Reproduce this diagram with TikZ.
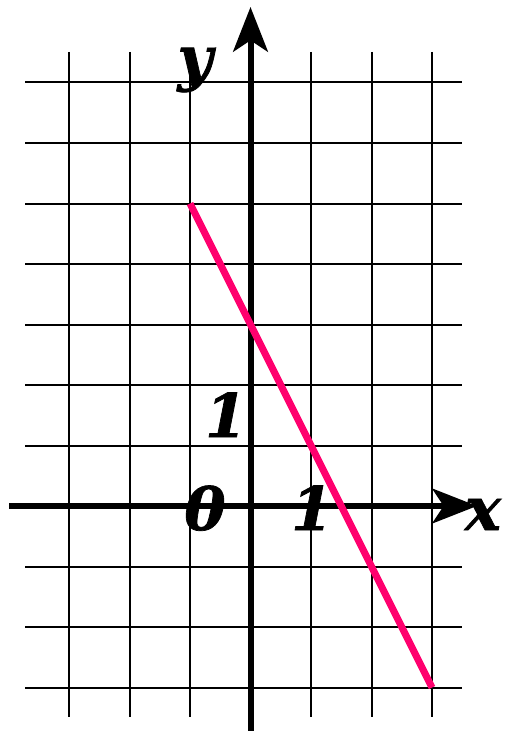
\documentclass[tikz,border=0pt]{standalone}
\usepackage{fontspec}
\usetikzlibrary{arrows.meta}
\newfontfamily\labelfont[BoldItalicFeatures={FakeBold=1.2}]{DejaVu Serif}
\definecolor{linepink}{RGB}{255,0,110}

\tikzset{every picture/.style={line width=0.75pt}}
\tikzset{
  gridline/.style={line width=1.5pt, line cap=butt},
  axisline/.style={line width=4.5pt, -{Stealth[length=33.5pt,width=26pt,inset=8.5pt]}},
  labeltext/.style={anchor=base, inner sep=0.75pt, font=\labelfont\bfseries\itshape\fontsize{45}{45}\selectfont}
}

\begin{document}
\begin{tikzpicture}[x=0.75pt,y=0.75pt,yscale=-1,xscale=1]
\useasboundingbox (0,0) rectangle (508,731);

%Grid: vertical lines
\draw [gridline]  (69,52) -- (69,717) ;
\draw [gridline]  (129.5,52) -- (129.5,717) ;
\draw [gridline]  (190,52) -- (190,717) ;
\draw [gridline]  (311,52) -- (311,717) ;
\draw [gridline]  (371.5,52) -- (371.5,717) ;
\draw [gridline]  (432,52) -- (432,717) ;
%Grid: horizontal lines
\draw [gridline]  (25,82.5) -- (462,82.5) ;
\draw [gridline]  (25,143) -- (462,143) ;
\draw [gridline]  (25,203.5) -- (462,203.5) ;
\draw [gridline]  (25,264) -- (462,264) ;
\draw [gridline]  (25,324.5) -- (462,324.5) ;
\draw [gridline]  (25,385) -- (462,385) ;
\draw [gridline]  (25,445.5) -- (462,445.5) ;
\draw [gridline]  (25,566.5) -- (462,566.5) ;
\draw [gridline]  (25,627) -- (462,627) ;
\draw [gridline]  (25,687.5) -- (462,687.5) ;

%Axes
\draw [axisline]  (9,506) -- (477,506) ;
\draw [axisline]  (250.5,731) -- (250.5,7) ;

%Graph line
\draw [color=linepink, line width=5.3pt]  (190,203.5) -- (432,687.5) ;

% Text Node
\node [labeltext] (ylabel) at (195,79) {y};
% Text Node
\node [labeltext] (xlabel) at (483,530) {x};
% Text Node
\node [labeltext] (origin) at (205,530) {0};
% Text Node
\node [labeltext] (xone) at (312,530) {1};
% Text Node
\node [labeltext] (yone) at (226,437) {1};

\end{tikzpicture}
\end{document}
